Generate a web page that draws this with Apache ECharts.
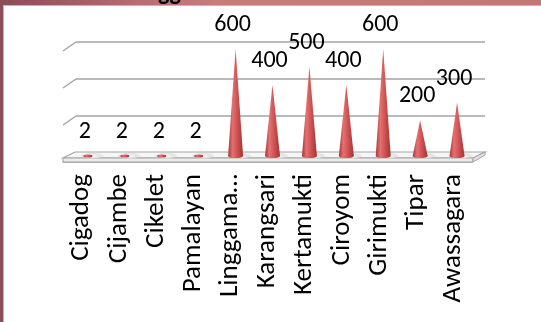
<!DOCTYPE html>
<html>
<head>
<meta charset="utf-8">
<script src="https://cdn.jsdelivr.net/npm/echarts@6/dist/echarts.min.js"></script>
<style>
  html, body { margin: 0; padding: 0; background: #fff; }
  #chart { width: 541px; height: 322px; }
</style>
</head>
<body>
<div id="chart"></div>
<script>
// data
const categories = ['Cigadog', 'Cijambe', 'Cikelet', 'Pamalayan', 'Linggama…', 'Karangsari',
  'Kertamukti', 'Ciroyom', 'Girimukti', 'Tipar', 'Awassagara'];
const values = [2, 2, 2, 2, 600, 400, 500, 400, 600, 200, 300];
const valueMax = 600;
const valueStep = 200;

const FONT = 'Carlito, Calibri, Lato, sans-serif';
const LINE = '#a3a3a3';

// cone colour, lit from the left
const coneColor = {
  type: 'linear', x: 0, y: 0, x2: 1, y2: 0,
  colorStops: [
    { offset: 0, color: '#a83636' },
    { offset: 0.3, color: '#e27272' },
    { offset: 0.55, color: '#d45858' },
    { offset: 1, color: '#a43232' },
  ],
};

const chart = echarts.init(document.getElementById('chart'), null, { renderer: 'canvas' });

// slanted side-wall edges of the back gridlines
const sideLines = [42, 79, 116].map((y) => ({
  type: 'line', z: 1,
  shape: { x1: 63, y1: y + 9, x2: 76, y2: y },
  style: { stroke: LINE, lineWidth: 1.5 },
}));

chart.setOption({
  animation: false,
  backgroundColor: '#fff',
  graphic: [
    // slide background round the chart
    { type: 'rect', z: 0, shape: { x: 0, y: 0, width: 541, height: 5 },
      style: { fill: { type: 'linear', x: 0, y: 0, x2: 1, y2: 0,
        colorStops: [{ offset: 0, color: '#8a4c54' }, { offset: 0.25, color: '#b66c70' }, { offset: 0.4, color: '#c87c7c' }, { offset: 1, color: '#c27676' }] } } },
    { type: 'rect', z: 0, shape: { x: 0, y: 0, width: 3, height: 322 }, style: { fill: '#8c4e55' } },
    { type: 'line', z: 0, shape: { x1: 3, y1: 5.5, x2: 541, y2: 5.5 }, style: { stroke: '#b9b9b9', lineWidth: 1 } },
    { type: 'line', z: 0, shape: { x1: 3.5, y1: 5, x2: 3.5, y2: 322 }, style: { stroke: '#b9b9b9', lineWidth: 1 } },
    { type: 'text', z: 1, style: { x: 158, y: -6, text: 'gg', font: 'bold 24px ' + FONT, fill: '#000', verticalAlign: 'middle' } },
    ...sideLines,
    // floor slab
    { type: 'polygon', z: 1, shape: { points: [[63, 158], [75, 152], [485, 152], [473, 158]] },
      style: { fill: '#f6f6f6', stroke: LINE, lineWidth: 1.2 } },
    { type: 'polygon', z: 1, shape: { points: [[63, 158], [473, 158], [473, 162], [63, 162]] },
      style: { fill: '#ececec', stroke: LINE, lineWidth: 1 } },
    { type: 'polygon', z: 1, shape: { points: [[473, 158], [485, 152], [485, 155], [473, 162]] },
      style: { fill: '#e2e2e2', stroke: LINE, lineWidth: 1 } },
  ],
  grid: [
    // back wall with gridlines
    { left: 76, right: 56, top: 42, bottom: 169 },
    // cones (mid depth of the floor)
    { left: 69.5, right: 65.5, top: 49, bottom: 166 },
    // front category axis
    { left: 63, right: 69, top: 100, bottom: 160 },
  ],
  xAxis: [
    { gridIndex: 0, type: 'category', data: categories, show: false },
    { gridIndex: 1, type: 'category', data: categories, show: false },
    {
      gridIndex: 2, type: 'category', data: categories,
      axisLine: { lineStyle: { color: LINE, width: 1.5 } },
      axisTick: { length: 6, lineStyle: { color: LINE, width: 1.5 }, interval: 0 },
      axisLabel: { interval: 0, rotate: 90, margin: 12, fontSize: 27, fontFamily: FONT, color: '#000' },
    },
  ],
  yAxis: [
    {
      gridIndex: 0, type: 'value', min: 0, max: valueMax, interval: valueStep,
      axisLine: { show: false }, axisTick: { show: false }, axisLabel: { show: false },
      splitLine: { lineStyle: { color: LINE, width: 1.5 } },
    },
    { gridIndex: 1, type: 'value', min: 0, max: valueMax, show: false, splitLine: { show: false } },
    { gridIndex: 2, type: 'value', show: false, splitLine: { show: false } },
  ],
  series: [
    {
      // soft shadow on the floor
      type: 'pictorialBar', xAxisIndex: 1, yAxisIndex: 1, z: 3,
      barWidth: 24, barGap: '-100%',
      symbol: 'circle', symbolSize: [24, 7], symbolPosition: 'start', symbolOffset: [0, '50%'],
      itemStyle: { color: { type: 'radial', x: 0.5, y: 0.5, r: 0.5,
        colorStops: [{ offset: 0, color: 'rgba(255,255,255,1)' }, { offset: 0.6, color: 'rgba(225,225,225,0.9)' }, { offset: 1, color: 'rgba(200,200,200,0)' }] } },
      silent: true,
      data: values,
    },
    {
      // cone base
      type: 'pictorialBar', xAxisIndex: 1, yAxisIndex: 1, z: 4,
      barWidth: 15, barGap: '-100%',
      symbol: 'circle', symbolSize: [15, 4], symbolPosition: 'start', symbolOffset: [0, '50%'],
      itemStyle: { color: coneColor },
      data: values.map((v) => (v < 10 ? { value: v, symbolSize: [9, 3] } : v)),
    },
    {
      // cone body
      type: 'pictorialBar', xAxisIndex: 1, yAxisIndex: 1, z: 5,
      barWidth: 15, barGap: '-100%',
      symbol: 'path://M50,0 L100,100 L0,100 Z', symbolSize: [15, '100%'],
      itemStyle: { color: coneColor },
      label: {
        show: true, position: 'top', distance: 12, offset: [-3, 0],
        fontSize: 24, fontFamily: FONT, color: '#000',
      },
      data: values,
    },
  ],
});
</script>
</body>
</html>
